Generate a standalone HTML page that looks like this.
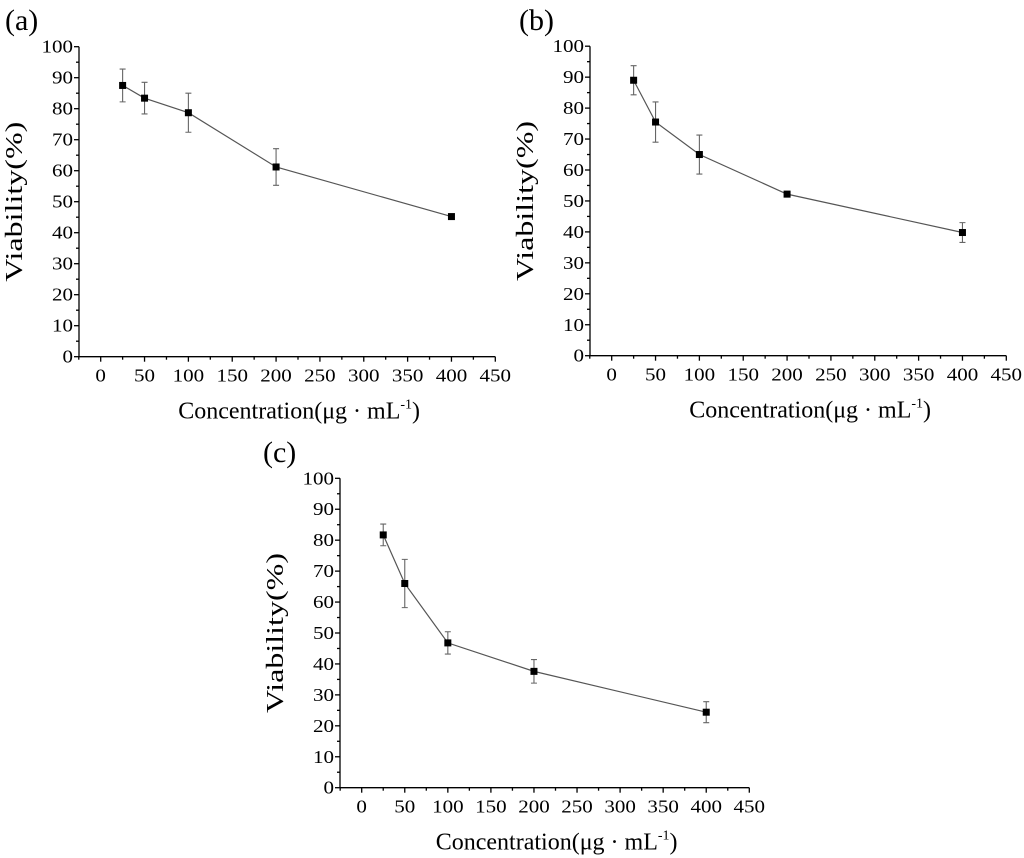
<!DOCTYPE html>
<html><head><meta charset="utf-8"><style>
html,body{margin:0;padding:0;background:#fff;}
svg{display:block;}
svg text{font-family:"Liberation Serif","Times New Roman",serif;}
</style></head><body>
<svg id="fig" width="1024" height="858" viewBox="0 0 1024 858" xmlns="http://www.w3.org/2000/svg"></svg>
<script>
const concentrations = [25, 50, 100, 200, 400];
const viabilityA = [87.5, 83.4, 78.7, 61.2, 45.2];
const errA = [5.3, 5.1, 6.3, 5.9, 0.8];
const viabilityB = [89.0, 75.5, 65.0, 52.2, 39.8];
const errB = [4.7, 6.5, 6.3, 0.9, 3.2];
const viabilityC = [81.7, 66.0, 46.8, 37.6, 24.4];
const errC = [3.5, 7.8, 3.6, 3.8, 3.4];
const xTicks = [0, 50, 100, 150, 200, 250, 300, 350, 400, 450];
const yTicks = [0, 10, 20, 30, 40, 50, 60, 70, 80, 90, 100];

const NS = "http://www.w3.org/2000/svg";
const svg = document.getElementById('fig');
function mk(tag, attrs, parent, text){
  const e = document.createElementNS(NS, tag);
  for (const k in attrs) e.setAttribute(k, attrs[k]);
  if (text !== undefined) e.textContent = text;
  parent.appendChild(e);
  return e;
}
function panel(id, label, ax, x0px, x450px, y0px, y100px, vals, errs, lblX, lblY){
  const g = mk('g', {}, svg);
  
  
  const sx = v => x0px + (x450px - x0px) * v / 450;
  const sy = v => y0px + (y100px - y0px) * v / 100;
  const c = {stroke:'#000','stroke-width':1.3,fill:'none'};
  const yAxis = mk('line', Object.assign({x1:ax,y1:sy(100),x2:ax,y2:y0px}, c), g);
  
  
  const xAxis = mk('line', Object.assign({x1:ax,y1:y0px,x2:x450px,y2:y0px}, c), g);
  
  
  for (let v = 0; v <= 100; v += 5){
    const major = v % 10 === 0;
    mk('line', Object.assign({x1:ax-(major?5:3),y1:sy(v),x2:ax,y2:sy(v)}, c), g);
  }
  yTicks.forEach(v=>{
    const s = String(v);
    const t = mk('text', {x:ax-6, y:sy(v)+6, 'text-anchor':'end', 'font-size':18, textLength:s.length*10.5, lengthAdjust:'spacingAndGlyphs'}, g, s);
    
    
  });
  for (let v = -25; v <= 450; v += 25){
    const major = v % 50 === 0;
    mk('line', Object.assign({x1:sx(v),y1:y0px,x2:sx(v),y2:y0px+(major?5:3)}, c), g);
  }
  xTicks.forEach(v=>{
    const s = String(v);
    const t = mk('text', {x:sx(v), y:y0px+25, 'text-anchor':'middle', 'font-size':18, textLength:s.length*10.5, lengthAdjust:'spacingAndGlyphs'}, g, s);
    
    
  });
  const pts = concentrations.map((cc,i)=>sx(cc)+','+sy(vals[i])).join(' ');
  const line = mk('polyline', {points:pts, stroke:'#555', 'stroke-width':1.2, fill:'none'}, g);
  
  
  concentrations.forEach((cc,i)=>{
    const x = sx(cc), yl = sy(vals[i]-errs[i]), yh = sy(vals[i]+errs[i]);
    const eb = mk('path', {d:`M${x},${yl}V${yh}M${x-3},${yl}H${x+3}M${x-3},${yh}H${x+3}`, stroke:'#666','stroke-width':1.1,fill:'none'}, g);
    
    
    const p = mk('rect', {x:x-3.5, y:sy(vals[i])-3.5, width:7, height:7, fill:'#000'}, g);
    
    
  });
  const yt = mk('text', {x:0, y:0, 'text-anchor':'middle', 'font-size':24, textLength:160, lengthAdjust:'spacingAndGlyphs', transform:`translate(${ax-57},${(y0px+sy(100))/2}) rotate(-90)`}, g, 'Viability(%)');
  
  
  const xt = mk('text', {x:(ax+x450px)/2+12, y:y0px+62, 'text-anchor':'middle', 'font-size':24}, g);
  
  
  xt.innerHTML = 'Concentration(μg · mL<tspan dy="-10" font-size="14">-1</tspan><tspan dy="10">)</tspan>';
  const pl = mk('text', {x:lblX, y:lblY, 'font-size':30}, g, label);
  
  
}
panel('a', '(a)', 79, 100.7, 495.3, 356.7, 46.7, viabilityA, errA, 5, 30);
panel('b', '(b)', 590, 611.7, 1006.3, 355.7, 46.2, viabilityB, errB, 519, 30);
panel('c', '(c)', 340, 361.7, 749.3, 787.7, 478.3, viabilityC, errC, 263, 462);
</script>
</body></html>
